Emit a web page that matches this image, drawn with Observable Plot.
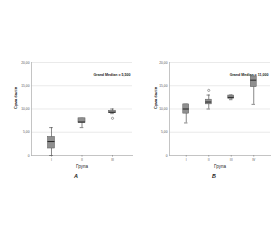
<!DOCTYPE html>
<html>
<head>
<meta charset="utf-8">
<script src="https://cdn.jsdelivr.net/npm/d3@7"></script>
<script src="https://cdn.jsdelivr.net/npm/@observablehq/plot@0.6"></script>
<style>
  html, body { margin: 0; padding: 0; background: #fff; }
  #wrap { display: flex; width: 280px; height: 240px; }
</style>
</head>
<body>
<div id="wrap"></div>
<script>
// Panel A
const groupsA = ["I", "II", "III"];
const minA = [0, 6, 9];
const q1A  = [1.5, 7, 9.1];
const medA = [3, 7.2, 9.3];
const q3A  = [4, 8, 9.6];
const maxA = [6, 8, 10];
const outGroupA = ["III"];
const outValA = [8];
const grandMedianA = "Grand Median = 5,500";
const captionA = "А";

// Panel B
const groupsB = ["I", "II", "III", "IV"];
const minB = [7, 10, 12, 11];
const q1B  = [9, 11, 12.2, 14.7];
const medB = [10, 11.5, 12.5, 16.2];
const q3B  = [11, 12, 12.9, 17];
const maxB = [11, 13, 13, 17];
const outGroupB = ["II"];
const outValB = [14];
const grandMedianB = "Grand Median = 11,000";
const captionB = "Б";

const yTicks = [0, 5, 10, 15, 20];
const yLabel = "Сума балів";
const xLabel = "Група";

function panel(d, o) {
  const idx = d.groups.map((_, i) => i);
  const oidx = d.outG.map((_, i) => i);
  const X = i => d.groups[i];
  return Plot.plot({
    width: 140, height: 240,
    marginLeft: o.ml, marginRight: o.mr, marginTop: 62, marginBottom: 85,
    style: { fontFamily: "'Liberation Sans', Arial, sans-serif", background: "white", color: "#333" },
    x: { type: "band", domain: d.groups, padding: o.pad, round: false, label: null },
    y: { domain: [0, 20], label: null },
    marks: [
      Plot.ruleY(yTicks.filter(v => v > 0), { stroke: "#dcdcdc", strokeWidth: 0.6 }),
      Plot.frame({ anchor: "left", stroke: "#b5b5b5", strokeWidth: 0.8 }),
      Plot.frame({ anchor: "bottom", stroke: "#b5b5b5", strokeWidth: 0.8 }),
      Plot.axisY({ ticks: yTicks, tickFormat: v => v === 0 ? "0" : v.toFixed(2).replace(".", ","),
        tickSize: 0, tickPadding: 2, fontSize: 3.3, fill: "#555", label: null }),
      Plot.axisX({ tickSize: 1.5, tickPadding: 1.5, fontSize: 3.3, fill: "#555", stroke: "#999", label: null }),
      Plot.ruleX(idx, { x: X, y1: i => d.min[i], y2: i => d.max[i], stroke: "#555", strokeWidth: 0.7 }),
      Plot.tickY(idx, { x: X, y: i => d.min[i], stroke: "#555", strokeWidth: 0.7, insetLeft: o.capIn, insetRight: o.capIn }),
      Plot.tickY(idx, { x: X, y: i => d.max[i], stroke: "#555", strokeWidth: 0.7, insetLeft: o.capIn, insetRight: o.capIn }),
      Plot.barY(idx, { x: X, y1: i => d.q1[i], y2: i => d.q3[i], fill: "#8f8f8f", stroke: "#5a5a5a", strokeWidth: 0.5,
        insetLeft: o.boxIn, insetRight: o.boxIn }),
      Plot.tickY(idx, { x: X, y: i => d.med[i], stroke: "#262626", strokeWidth: 1, insetLeft: o.boxIn, insetRight: o.boxIn }),
      Plot.dot(oidx, { x: i => d.outG[i], y: i => d.outV[i], r: 1.1, stroke: "#666", strokeWidth: 0.6, fill: "white" }),
      Plot.text([d.gm], { frameAnchor: "top-right", dx: -2, dy: 11, textAnchor: "end", fontSize: 3.6, fontWeight: "bold", fill: "#222" }),
      Plot.text([yLabel], { frameAnchor: "left", rotate: -90, dx: o.ylDx, fontSize: 4, fontWeight: "bold", fill: "#222" }),
      Plot.text([xLabel], { frameAnchor: "bottom", dy: 12, fontSize: 4.5, fill: "#222" }),
      Plot.text([d.cap], { frameAnchor: "bottom", dy: 22, dx: -6, fontSize: 5.5, fontWeight: "bold", fontStyle: "italic", fill: "#222" })
    ]
  });
}

const wrap = document.getElementById("wrap");
wrap.append(panel(
  { groups: groupsA, min: minA, q1: q1A, med: medA, q3: q3A, max: maxA, outG: outGroupA, outV: outValA, gm: grandMedianA, cap: captionA },
  { ml: 31, mr: 8, pad: 0.31, boxIn: 7, capIn: 8.7, ylDx: -16 }
));
wrap.append(panel(
  { groups: groupsB, min: minB, q1: q1B, med: medB, q3: q3B, max: maxB, outG: outGroupB, outV: outValB, gm: grandMedianB, cap: captionB },
  { ml: 29, mr: 10, pad: 0.49, boxIn: 2.75, capIn: 4, ylDx: -14 }
));
</script>
</body>
</html>
